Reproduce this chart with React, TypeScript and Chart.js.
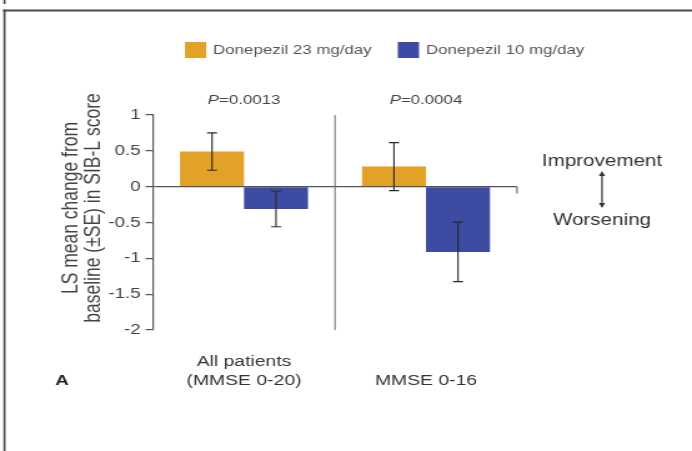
import React, { useEffect, useRef } from "react";
import { Chart, registerables } from "chart.js";

Chart.register(...registerables);

// ---- data ----
const categories: (string | string[])[] = [["All patients", "(MMSE 0-20)"], "MMSE 0-16"];
const seriesLabels = ["Donepezil 23 mg/day", "Donepezil 10 mg/day"];
const dose23Mean = [0.49, 0.28];
const dose23SE = [0.26, 0.335];
const dose10Mean = [-0.31, -0.91];
const dose10SE = [0.25, 0.415];
const pValueTexts = ["=0.0013", "=0.0004"];
const yMin = -2;
const yMax = 1;
const yStep = 0.5;
const yTitleLines = ["LS mean change from", "baseline (\u00B1SE) in SIB-L score"];
const directionLabels = ["Improvement", "Worsening"];
const panelLabel = "A";
const seriesColors = ["#E2A227", "#3D4BA2"];

// ---- canvas geometry (the picture is stretched horizontally) ----
const W = 692;
const H = 451;
const CW = 554; // drawing buffer width, displayed at W px
const K = CW / W; // reference px -> drawing px (horizontal)
const FONT = "'Liberation Sans', Arial, Helvetica, sans-serif";

const errorBarPlugin = {
  id: "errorBars",
  afterDatasetsDraw(chart: any) {
    const ctx = chart.ctx;
    const y = chart.scales.y;
    const ses = [dose23SE, dose10SE];
    const means = [dose23Mean, dose10Mean];
    ctx.save();
    ctx.strokeStyle = "#2a2a2a";
    ctx.lineWidth = 1.1;
    chart.data.datasets.forEach((_d: any, di: number) => {
      const meta = chart.getDatasetMeta(di);
      meta.data.forEach((el: any, i: number) => {
        const top = y.getPixelForValue(means[di][i] + ses[di][i]);
        const bot = y.getPixelForValue(means[di][i] - ses[di][i]);
        const x = el.x;
        const cap = 4;
        ctx.beginPath();
        ctx.moveTo(x, top);
        ctx.lineTo(x, bot);
        ctx.moveTo(x - cap, top);
        ctx.lineTo(x + cap, top);
        ctx.moveTo(x - cap, bot);
        ctx.lineTo(x + cap, bot);
        ctx.stroke();
      });
    });
    ctx.restore();
  },
};

const decorPlugin = {
  id: "decor",
  afterDraw(chart: any) {
    const ctx = chart.ctx;
    const area = chart.chartArea;
    const xs = chart.scales.x;
    const ys = chart.scales.y;
    ctx.save();

    // frame
    ctx.strokeStyle = "#4a4a4a";
    ctx.lineWidth = 2;
    ctx.beginPath();
    ctx.moveTo(3 * K, 10.5);
    ctx.lineTo(CW, 10.5);
    ctx.stroke();
    ctx.lineWidth = 1.7;
    ctx.beginPath();
    ctx.moveTo(4.5 * K, 9.5);
    ctx.lineTo(4.5 * K, H);
    ctx.moveTo(4.5 * K, 0);
    ctx.lineTo(4.5 * K, 4);
    ctx.stroke();

    // separator between groups
    const sepX = (xs.getPixelForValue(0) + xs.getPixelForValue(1)) / 2;
    ctx.strokeStyle = "#6a6a6a";
    ctx.lineWidth = 1;
    ctx.beginPath();
    ctx.moveTo(sepX, area.top);
    ctx.lineTo(sepX, area.bottom);
    ctx.stroke();

    // small end tick of zero line
    const y0 = ys.getPixelForValue(0);
    ctx.strokeStyle = "#555";
    ctx.beginPath();
    ctx.moveTo(area.right, y0);
    ctx.lineTo(area.right, y0 + 7);
    ctx.stroke();

    // legend
    ctx.textBaseline = "middle";
    ctx.textAlign = "left";
    ctx.font = `13.5px ${FONT}`;
    let lx = 185 * K;
    seriesLabels.forEach((lab, i) => {
      ctx.fillStyle = seriesColors[i];
      ctx.fillRect(lx, 42, 17, 16);
      ctx.fillStyle = "#555";
      ctx.fillText(lab, lx + 22.5, 50.5);
      lx += 22.5 + ctx.measureText(lab).width + 21;
    });

    // p values
    pValueTexts.forEach((t, i) => {
      const cx = xs.getPixelForValue(i);
      ctx.font = `italic 13.5px ${FONT}`;
      const pw = ctx.measureText("P").width;
      ctx.font = `13.5px ${FONT}`;
      const tw = ctx.measureText(t).width;
      const sx = cx - (pw + tw) / 2;
      ctx.fillStyle = "#444";
      ctx.font = `italic 13.5px ${FONT}`;
      ctx.fillText("P", sx, 100);
      ctx.font = `13.5px ${FONT}`;
      ctx.fillText(t, sx + pw, 100);
    });

    // improvement / worsening
    const ax = 602 * K;
    ctx.textAlign = "center";
    ctx.fillStyle = "#333";
    ctx.font = `16.5px ${FONT}`;
    ctx.fillText(directionLabels[0], ax, 161);
    ctx.fillText(directionLabels[1], ax, 220);
    ctx.strokeStyle = "#333";
    ctx.lineWidth = 1.2;
    ctx.beginPath();
    ctx.moveTo(ax, 173);
    ctx.lineTo(ax, 206);
    ctx.stroke();
    ctx.fillStyle = "#333";
    ctx.beginPath();
    ctx.moveTo(ax, 171);
    ctx.lineTo(ax - 2.5, 176);
    ctx.lineTo(ax + 2.5, 176);
    ctx.closePath();
    ctx.fill();
    ctx.beginPath();
    ctx.moveTo(ax, 208);
    ctx.lineTo(ax - 2.5, 203);
    ctx.lineTo(ax + 2.5, 203);
    ctx.closePath();
    ctx.fill();

    // panel label
    ctx.font = `bold 15px ${FONT}`;
    ctx.fillStyle = "#222";
    ctx.textAlign = "center";
    ctx.fillText(panelLabel, 62 * K, 381);

    // y-axis title (two lines, rotated)
    ctx.font = `17.5px ${FONT}`;
    ctx.fillStyle = "#444";
    const cy = 208;
    const lineX = [72 * K, 94 * K];
    yTitleLines.forEach((line, i) => {
      ctx.save();
      ctx.translate(lineX[i], cy);
      ctx.rotate(-Math.PI / 2);
      ctx.textAlign = "center";
      ctx.textBaseline = "middle";
      ctx.fillText(line, 0, 0);
      ctx.restore();
    });

    ctx.restore();
  },
};

export default function App() {
  const ref = useRef<HTMLCanvasElement | null>(null);

  useEffect(() => {
    if (!ref.current) return;
    const chart = new Chart(ref.current, {
      type: "bar",
      data: {
        labels: categories as any,
        datasets: [
          {
            label: seriesLabels[0],
            data: dose23Mean,
            backgroundColor: seriesColors[0],
            borderWidth: 0,
            categoryPercentage: 0.703,
            barPercentage: 1,
          },
          {
            label: seriesLabels[1],
            data: dose10Mean,
            backgroundColor: seriesColors[1],
            borderWidth: 0,
            categoryPercentage: 0.703,
            barPercentage: 1,
          },
        ],
      },
      options: {
        responsive: false,
        animation: false,
        devicePixelRatio: 1,
        layout: {
          padding: { left: 0, right: CW - 517 * K, top: 115, bottom: 0 },
        },
        plugins: {
          legend: { display: false },
          title: { display: false },
          tooltip: { enabled: false },
        },
        scales: {
          x: {
            grid: { display: false, drawTicks: false },
            border: { display: false },
            ticks: {
              color: "#333",
              padding: 32,
              crossAlign: "far",
              maxRotation: 0,
              autoSkip: false,
              font: { family: FONT, size: 15.5, lineHeight: 1.226 },
            },
            afterFit: (s: any) => {
              s.height = H - 330;
            },
          },
          y: {
            min: yMin,
            max: yMax,
            ticks: {
              stepSize: yStep,
              color: "#444",
              padding: 4,
              font: { family: FONT, size: 15 },
              callback: (v: any) => String(v),
            },
            grid: {
              drawOnChartArea: true,
              color: (c: any) => (c.tick && c.tick.value === 0 ? "#555" : "rgba(0,0,0,0)"),
              tickColor: "#555",
              tickLength: 6,
              lineWidth: 1.2,
            },
            border: { display: true, color: "#555", width: 1.2 },
            afterFit: (s: any) => {
              s.width = 153 * K;
            },
          },
        },
      },
      plugins: [errorBarPlugin, decorPlugin],
    });
    return () => chart.destroy();
  }, []);

  return (
    <div
      style={{
        position: "absolute",
        left: 0,
        top: 0,
        width: W,
        height: H,
        background: "#fff",
        overflow: "hidden",
      }}
    >
      <canvas
        ref={ref}
        width={CW}
        height={H}
        style={{ display: "block", width: `${W}px`, height: `${H}px` }}
      />
    </div>
  );
}
